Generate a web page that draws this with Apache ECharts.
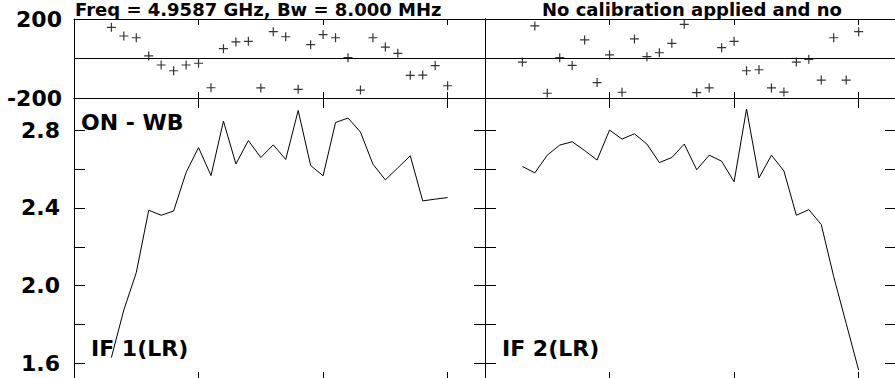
<!DOCTYPE html>
<html>
<head>
<meta charset="utf-8">
<script src="https://cdn.jsdelivr.net/npm/echarts@6/dist/echarts.min.js"></script>
<style>
html, body { margin: 0; padding: 0; background: #fff; }
#main { width: 895px; height: 378px; }
</style>
</head>
<body>
<div id="main"></div>
<script>
// channel numbers and per-channel values
var channels = [3, 4, 5, 6, 7, 8, 9, 10, 11, 12, 13, 14, 15, 16, 17, 18, 19, 20, 21, 22, 23, 24, 25, 26, 27, 28, 29, 30];
var phaseIF1 = [158, 114, 105, 13, -33, -62, -33, -24, -148, 50, 84, 87, -149, 136, 110, -156, 70, 121, 105, 4, -160, 105, 58, 26, -85, -84, -36, -138];
var phaseIF2 = [-18, 165, -176, 4, -35, 94, -122, 18, -171, 99, 9, 29, 77, 173, -173, -149, 55, 87, -62, -57, -149, -170, -18, -4, -109, 105, -109, 136];
var ampIF1 = [1.63, 1.875, 2.067, 2.388, 2.362, 2.384, 2.582, 2.71, 2.566, 2.846, 2.626, 2.746, 2.659, 2.724, 2.649, 2.901, 2.618, 2.565, 2.839, 2.862, 2.79, 2.625, 2.544, 2.606, 2.668, 2.436, 2.445, 2.453];
var ampIF2 = [2.613, 2.58, 2.671, 2.723, 2.74, 2.695, 2.646, 2.8, 2.754, 2.781, 2.728, 2.633, 2.659, 2.728, 2.596, 2.671, 2.64, 2.534, 2.908, 2.554, 2.671, 2.59, 2.362, 2.391, 2.314, 2.046, 1.806, 1.566];

// tick labels
var chanTicks = [10, 20, 30];
var ampTicks = [1.6, 1.8, 2.0, 2.2, 2.4, 2.6, 2.8];
var ampLabels = [1.6, 2.0, 2.4, 2.8];
var panelNames = ['IF 1(LR)', 'IF 2(LR)'];
var titleText = 'Freq = 4.9587 GHz, Bw = 8.000 MHz';
var noteText = 'No calibration applied and no';
var plotLabel = 'ON - WB';

var black = '#000';
var font = 'DejaVu Sans';
var plus = 'path://M0,3.9h9v1.2h-9z M3.9,0h1.2v9h-1.2z';

function pairs(ys) {
    return channels.map(function (c, i) { return [c, ys[i]]; });
}

function chanAxis(grid, pos, len) {
    return {
        type: 'value', gridIndex: grid, position: pos,
        min: 0, max: 33, interval: 10,
        axisLine: { show: true, onZero: false, lineStyle: { color: black, width: 1 } },
        axisTick: { show: true, inside: true, length: len, customValues: chanTicks, lineStyle: { color: black, width: 1 } },
        axisLabel: { show: false },
        splitLine: { show: false }
    };
}

function phaseAxis(grid, pos, labels) {
    return {
        type: 'value', gridIndex: grid, position: pos,
        min: -200, max: 200, interval: 200,
        axisLine: { show: true, onZero: false, lineStyle: { color: black, width: 1 } },
        axisTick: { show: false },
        axisLabel: {
            show: labels, margin: 12, color: black, padding: [5, 0, 0, 0],
            fontFamily: font, fontWeight: 'bold', fontSize: 22,
            formatter: function (v) { return v === 0 ? '' : String(v); }
        },
        splitLine: { show: pos === 'left', lineStyle: { color: black, width: 1 } }
    };
}

function ampAxis(grid, pos, labels) {
    return {
        type: 'value', gridIndex: grid, position: pos,
        min: 1.515, max: 2.965,
        axisLine: { show: true, onZero: false, lineStyle: { color: black, width: 1 } },
        axisTick: { show: true, inside: true, length: 11, customValues: ampTicks, lineStyle: { color: black, width: 1 } },
        axisLabel: {
            show: labels, customValues: ampLabels, margin: 14, color: black, padding: [5, 0, 0, 0],
            fontFamily: font, fontWeight: 'bold', fontSize: 22,
            formatter: function (v) { return v.toFixed(1); }
        },
        splitLine: { show: false }
    };
}

function label(text, x, y, size) {
    return {
        type: 'text', x: x, y: y, z: 10,
        style: {
            text: text, fill: black, font: 'bold ' + size + 'px "DejaVu Sans"',
            textAlign: 'left', textVerticalAlign: 'middle', align: 'left', verticalAlign: 'middle'
        }
    };
}

var myChart = echarts.init(document.getElementById('main'), null, { renderer: 'svg' });

var option = {
    backgroundColor: '#fff',
    animation: false,
    grid: [
        { left: 74, top: 19, width: 411, height: 79, outerBoundsMode: 'none' },
        { left: 485, top: 19, width: 411, height: 79, outerBoundsMode: 'none' },
        { left: 74, top: 98, width: 411, height: 282, outerBoundsMode: 'none' },
        { left: 485, top: 98, width: 411, height: 282, outerBoundsMode: 'none' }
    ],
    xAxis: [
        chanAxis(0, 'bottom', 6), chanAxis(0, 'top', 6),
        chanAxis(1, 'bottom', 6), chanAxis(1, 'top', 6),
        chanAxis(2, 'bottom', 8), chanAxis(2, 'top', 10),
        chanAxis(3, 'bottom', 8), chanAxis(3, 'top', 10)
    ],
    yAxis: [
        phaseAxis(0, 'left', true), phaseAxis(0, 'right', false),
        phaseAxis(1, 'left', false), phaseAxis(1, 'right', false),
        ampAxis(2, 'left', true), ampAxis(2, 'right', false),
        ampAxis(3, 'left', false), ampAxis(3, 'right', false)
    ],
    graphic: [
        label(titleText, 75, 9, 18),
        label(noteText, 542, 9, 18),
        label(plotLabel, 81, 122, 22),
        label(panelNames[0], 91, 348, 22),
        label(panelNames[1], 502, 348, 22)
    ],
    series: [
        {
            name: 'phase IF1', type: 'scatter', xAxisIndex: 0, yAxisIndex: 0,
            data: pairs(phaseIF1), symbol: plus, symbolSize: 9,
            itemStyle: { color: black }
        },
        {
            name: 'phase IF2', type: 'scatter', xAxisIndex: 2, yAxisIndex: 2,
            data: pairs(phaseIF2), symbol: plus, symbolSize: 9,
            itemStyle: { color: black }
        },
        {
            name: 'amp IF1', type: 'line', xAxisIndex: 4, yAxisIndex: 4,
            data: pairs(ampIF1), symbol: 'none', showSymbol: false,
            lineStyle: { color: black, width: 1 }
        },
        {
            name: 'amp IF2', type: 'line', xAxisIndex: 6, yAxisIndex: 6,
            data: pairs(ampIF2), symbol: 'none', showSymbol: false,
            lineStyle: { color: black, width: 1 }
        }
    ]
};

myChart.setOption(option);
</script>
</body>
</html>
